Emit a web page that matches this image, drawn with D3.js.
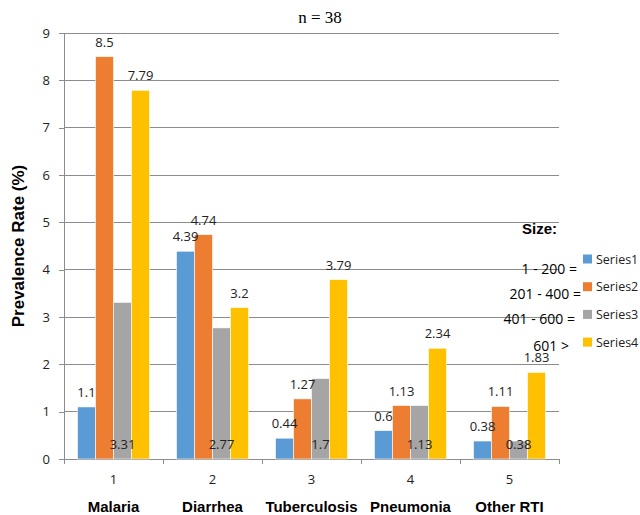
<!DOCTYPE html>
<html>
<head>
<meta charset="utf-8">
<script src="https://cdn.jsdelivr.net/npm/d3@7"></script>
<style>
  html, body { margin: 0; padding: 0; background: #fff; }
  svg { display: block; }
</style>
</head>
<body>
<svg id="chart" width="640" height="515"></svg>
<script>
// Disease categories and their axis numbers
const categories = ["Malaria", "Diarrhea", "Tuberculosis", "Pneumonia", "Other RTI"];
const categoryNumbers = ["1", "2", "3", "4", "5"];
const seriesNames = ["Series1", "Series2", "Series3", "Series4"];
const seriesColors = ["#5B9BD5", "#ED7D31", "#A5A5A5", "#FFC000"];
const sizeLabels = ["1 - 200 =", "201 - 400 =", "401 - 600 =", "601 >"];

// Prevalence rate (%) per series, one value per category
const series1 = [1.1, 4.39, 0.44, 0.6, 0.38];
const series2 = [8.5, 4.74, 1.27, 1.13, 1.11];
const series3 = [3.31, 2.77, 1.7, 1.13, 0.38];
const series4 = [7.79, 3.2, 3.79, 2.34, 1.83];
const allSeries = [series1, series2, series3, series4];

const yTicks = [0, 1, 2, 3, 4, 5, 6, 7, 8, 9];

const svg = d3.select("#chart");
const plot = { left: 64, right: 559, top: 33, bottom: 459 };

const x0 = d3.scaleBand().domain(categories).range([plot.left, plot.right]).padding(0);
const x1 = d3.scaleBand().domain(seriesNames).range([0, x0.bandwidth()])
  .paddingInner(0).paddingOuter(0.75);
const y = d3.scaleLinear().domain([0, 9]).range([plot.bottom, plot.top]);

const labelFont = "'Open Sans', 'Noto Sans', sans-serif";
const boldFont = "'Liberation Sans', Arial, sans-serif";

// Horizontal gridlines
svg.append("g")
  .selectAll("line")
  .data(yTicks.filter(d => d > 0))
  .join("line")
  .attr("x1", plot.left).attr("x2", plot.right)
  .attr("y1", d => y(d)).attr("y2", d => y(d))
  .attr("stroke", "#8c8c8c").attr("stroke-width", 1)
  .attr("shape-rendering", "crispEdges");

// Y axis
const yAxis = svg.append("g")
  .attr("transform", `translate(${plot.left},0)`)
  .call(d3.axisLeft(y).tickValues(yTicks).tickSize(5).tickPadding(9).tickFormat(d3.format("d")));
yAxis.select(".domain").attr("stroke", "#8c8c8c").attr("shape-rendering", "crispEdges");
yAxis.selectAll(".tick line").attr("stroke", "#8c8c8c").attr("shape-rendering", "crispEdges");
yAxis.selectAll("text").attr("font-family", labelFont).attr("font-size", 13).attr("fill", "#222");

// X axis: ticks at category boundaries
const xAxisG = svg.append("g").attr("transform", `translate(0,${plot.bottom})`);
xAxisG.append("line")
  .attr("x1", plot.left).attr("x2", plot.right)
  .attr("stroke", "#8c8c8c").attr("shape-rendering", "crispEdges");
const boundaries = categories.map(c => x0(c)).concat([x0(categories[categories.length - 1]) + x0.bandwidth()]);
xAxisG.selectAll("line.tick")
  .data(boundaries)
  .join("line")
  .attr("class", "tick")
  .attr("x1", d => d).attr("x2", d => d)
  .attr("y1", 0).attr("y2", 5)
  .attr("stroke", "#8c8c8c").attr("shape-rendering", "crispEdges");

// Category numbers and names
svg.append("g").selectAll("text")
  .data(categories)
  .join("text")
  .attr("x", d => x0(d) + x0.bandwidth() / 2)
  .attr("y", 484)
  .attr("text-anchor", "middle")
  .attr("font-family", labelFont).attr("font-size", 13).attr("fill", "#222")
  .text((d, i) => categoryNumbers[i]);

svg.append("g").selectAll("text")
  .data(categories)
  .join("text")
  .attr("x", d => x0(d) + x0.bandwidth() / 2)
  .attr("y", 512)
  .attr("text-anchor", "middle")
  .attr("font-family", boldFont).attr("font-weight", "bold").attr("font-size", 15).attr("fill", "#000")
  .text(d => d);

// Bars
const barData = [];
allSeries.forEach((vals, si) => {
  vals.forEach((v, ci) => barData.push({ s: seriesNames[si], si, c: categories[ci], v }));
});

svg.append("g").selectAll("rect")
  .data(barData)
  .join("rect")
  .attr("x", d => x0(d.c) + x1(d.s))
  .attr("y", d => y(d.v))
  .attr("width", x1.bandwidth())
  .attr("height", d => y(0) - y(d.v))
  .attr("fill", d => seriesColors[d.si])
  .attr("stroke", "#fff").attr("stroke-width", 0.6);

// Value labels: Series3 sits inside the base, the rest above the bar
svg.append("g").selectAll("text")
  .data(barData)
  .join("text")
  .attr("x", d => x0(d.c) + x1(d.s) + x1.bandwidth() / 2)
  .attr("y", d => d.si === 2 ? y(0) - 10 : y(d.v) - 10)
  .attr("text-anchor", "middle")
  .attr("font-family", labelFont).attr("font-size", 13).attr("fill", "#222")
  .text(d => d.v);

// Title
svg.append("text")
  .attr("x", 320).attr("y", 23)
  .attr("text-anchor", "middle")
  .attr("font-family", "'Liberation Serif', 'Times New Roman', serif")
  .attr("font-size", 17).attr("fill", "#000")
  .text("n = 38");

// Y axis title
svg.append("text")
  .attr("transform", "translate(24,246) rotate(-90)")
  .attr("text-anchor", "middle")
  .attr("font-family", boldFont).attr("font-weight", "bold").attr("font-size", 17).attr("fill", "#000")
  .text("Prevalence Rate (%)");

// Size annotation
svg.append("text")
  .attr("x", 557).attr("y", 234)
  .attr("text-anchor", "end")
  .attr("font-family", boldFont).attr("font-weight", "bold").attr("font-size", 15).attr("fill", "#000")
  .text("Size:");

const sizeY = [274, 299, 324, 351];
const sizeX = [577, 581, 575, 569];
svg.append("g").selectAll("text")
  .data(sizeLabels)
  .join("text")
  .attr("x", (d, i) => sizeX[i])
  .attr("y", (d, i) => sizeY[i])
  .attr("text-anchor", "end")
  .attr("font-family", labelFont).attr("font-size", 14).attr("fill", "#000")
  .text(d => d);

// Legend
const legend = svg.append("g").selectAll("g")
  .data(seriesNames)
  .join("g")
  .attr("transform", (d, i) => `translate(583,${259 + i * 27.7})`);
legend.append("rect")
  .attr("x", 0).attr("y", -4.5).attr("width", 9).attr("height", 9)
  .attr("fill", (d, i) => seriesColors[i]);
legend.append("text")
  .attr("x", 13).attr("y", 4.5)
  .attr("font-family", labelFont).attr("font-size", 12.5).attr("fill", "#222")
  .text(d => d);
</script>
</body>
</html>
